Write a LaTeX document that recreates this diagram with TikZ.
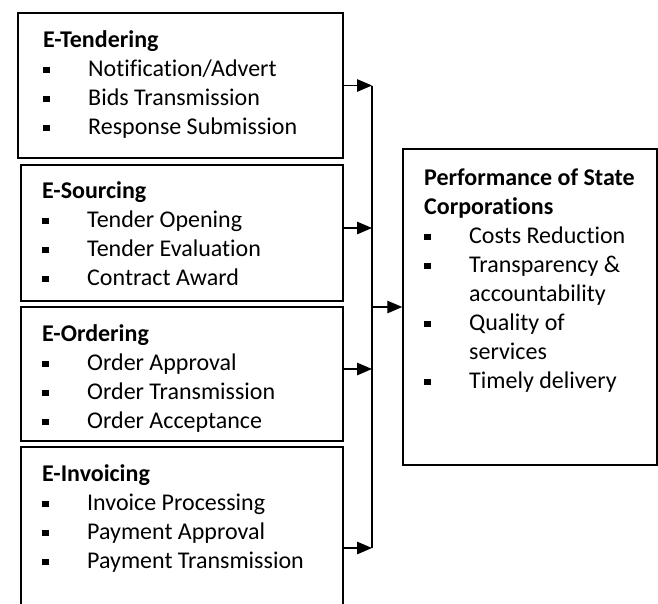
\documentclass[tikz,border=0pt]{standalone}
\usepackage{fontspec}
\setmainfont{Carlito}[Ligatures=NoCommon]
\usetikzlibrary{arrows.meta,positioning}
\newcommand{\sqitem}{\makebox[45pt][l]{\rule[3pt]{6.5pt}{6.5pt}}}
\begin{document}
\begin{tikzpicture}[x=1pt,y=-1pt,
    box/.style={draw,line width=1.5pt,inner sep=0pt},
    txt/.style={anchor=base west,align=left,inner sep=0pt,font=\fontsize{24}{29}\selectfont},
    feed/.style={-{Triangle[length=15pt,width=12.5pt]},line width=1.3pt}]
    \useasboundingbox (0,0) rectangle (658,603);
    \clip (0,0) rectangle (658,603);
    % boxes
    \node[box,minimum width=325pt,minimum height=145pt] (tend) at (180.5,85.5) {};
    \node[box,minimum width=322pt,minimum height=136pt] (sour) at (182,233) {};
    \node[box,minimum width=322pt,minimum height=134pt] (orde) at (182,374) {};
    \node[box,minimum width=322pt,minimum height=202pt] (invo) at (182,548) {};
    \node[box,minimum width=254pt,minimum height=316pt] (perf) at (530,307) {};
    % texts (placed by the baseline of their last line)
    \node[txt] (tendtxt) at (43,134) {\textbf{E-Tendering}\\
        \sqitem Notification/Advert\\
        \sqitem Bids Transmission\\
        \sqitem Response Submission};
    \node[txt] (sourtxt) at (42,285) {\textbf{E-Sourcing}\\
        \sqitem Tender Opening\\
        \sqitem Tender Evaluation\\
        \sqitem Contract Award};
    \begin{scope}
        \clip (21,307) rectangle (343,431);
        \node[txt] (ordetxt) at (42,428) {\textbf{E-Ordering}\\
            \sqitem Order Approval\\
            \sqitem Order Transmission\\
            \sqitem Order Acceptance};
    \end{scope}
    \node[txt] (invotxt) at (42,568) {\textbf{E-Invoicing}\\
        \sqitem Invoice Processing\\
        \sqitem Payment Approval\\
        \sqitem Payment Transmission};
    \node[txt] (perftxt) at (424,388) {\textbf{Performance of State}\\
        \textbf{Corporations}\\
        \sqitem Costs Reduction\\
        \sqitem Transparency \&\\
        \hspace*{45pt}accountability\\
        \sqitem Quality of\\
        \hspace*{45pt}services\\
        \sqitem Timely delivery};
    % connectors
    \coordinate (bus) at (372,0);
    \draw[line width=1.3pt] (tend.east -| bus) -- (invo.east -| bus);
    \draw[feed] (tend.east) -- (tend.east -| bus);
    \draw[feed] ([yshift=5pt]sour.east) -- ([yshift=5pt]sour.east -| bus);
    \draw[feed] ([yshift=5pt]orde.east) -- ([yshift=5pt]orde.east -| bus);
    \draw[feed] (invo.east) -- (invo.east -| bus);
    \draw[feed] (bus |- perf.west) -- (perf.west);
\end{tikzpicture}
\end{document}
